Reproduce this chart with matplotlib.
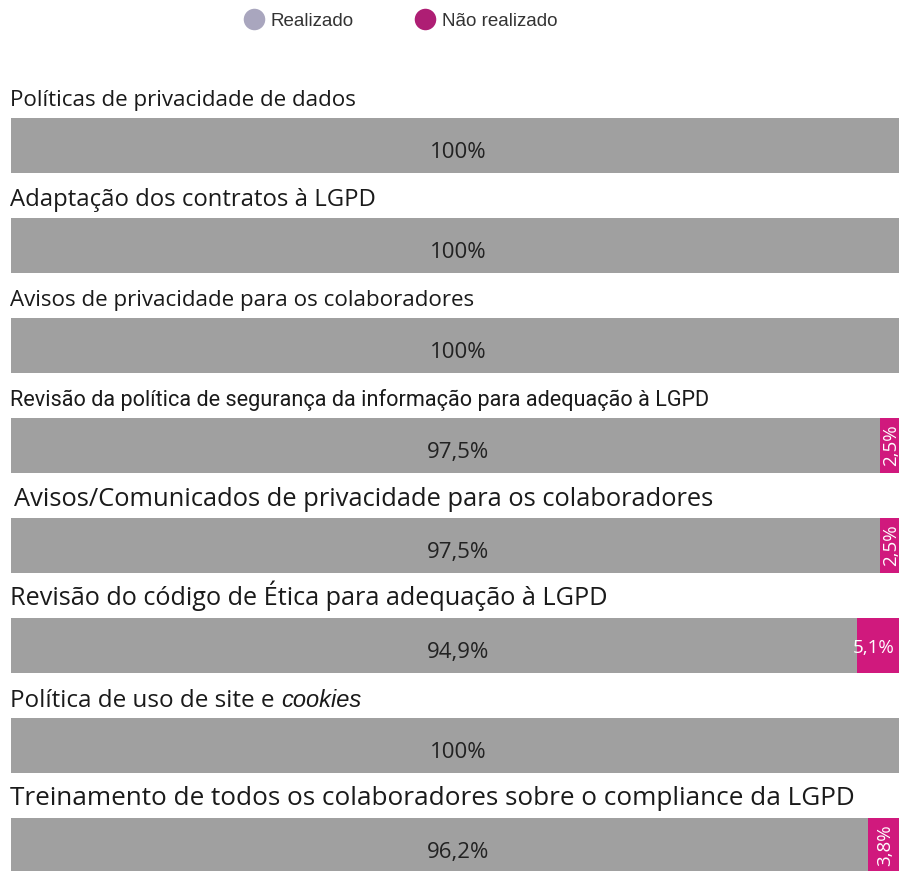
import matplotlib.pyplot as plt
from matplotlib.lines import Line2D

categories = [
    "Políticas de privacidade de dados",
    "Adaptação dos contratos à LGPD",
    "Avisos de privacidade para os colaboradores",
    "Revisão da política de segurança da informação para adequação à LGPD",
    "Avisos/Comunicados de privacidade para os colaboradores",
    "Revisão do código de Ética para adequação à LGPD",
    "Política de uso de site e ",
    "Treinamento de todos os colaboradores sobre o compliance da LGPD",
]
realizado = [100, 100, 100, 97.5, 97.5, 94.9, 100, 96.2]
nao_realizado = [0, 0, 0, 2.5, 2.5, 5.1, 0, 3.8]
value_labels = ["100%", "100%", "100%", "97,5%", "97,5%", "94,9%", "100%", "96,2%"]
rest_labels = ["", "", "", "2,5%", "2,5%", "5,1%", "", "3,8%"]
legend_labels = ["Realizado", "Não realizado"]

GRAY = "#a0a0a0"
MAGENTA = "#d0197d"
TEXT = "#1a1a1a"
FONT = "Open Sans"

# per-title font size, x offset (px) and baseline (px from top)
title_sizes = [16.1, 17.2, 16.1, 15.6, 18.4, 18.2, 17.5, 18.8]
title_x = [10, 10, 10, 10, 14, 10, 10, 10]
title_base = [106, 206, 306, 406, 506, 605, 707, 805]
title_fonts = [FONT, FONT, FONT, "Roboto", FONT, FONT, FONT, FONT]

W, H = 899, 871
fig = plt.figure(figsize=(W / 100, H / 100), dpi=100)
left, right = 11, 902
ax = fig.add_axes([left / W, 0, (right - left) / W, 1])
ax.set_xlim(0, 100)
# bar i is centred at 145.5 + 100*i pixels from the top
ax.set_ylim((H - 145.5) / 100, -1.455)
ax.axis("off")

ypos = list(range(len(categories)))
ax.barh(ypos, realizado, height=0.55, color=GRAY, linewidth=0)
ax.barh(ypos, nao_realizado, left=realizado, height=0.55, color=MAGENTA, linewidth=0)


def px_to_fig(x, y):
    return x / W, 1 - y / H


for i, name in enumerate(categories):
    fx, fy = px_to_fig(title_x[i], title_base[i])
    t = fig.text(fx, fy, name, fontsize=title_sizes[i], family=title_fonts[i],
                 color=TEXT, va="baseline", ha="left")
    if i == 6:
        fig.canvas.draw()
        bb = t.get_window_extent()
        fig.text(bb.x1 / W, fy, "cookies", fontsize=17, style="italic",
                 family="Liberation Sans", color=TEXT, va="baseline")

    ax.text(50.2, i + 0.125, value_labels[i], fontsize=16, family=FONT,
            color="#222222", va="baseline", ha="center")

    if rest_labels[i]:
        end = realizado[i] + nao_realizado[i]
        if nao_realizado[i] > 5:
            ax.text(end - 0.8, i + 0.07, rest_labels[i], fontsize=13.5, family=FONT,
                    color="white", va="baseline", ha="right")
        else:
            cx = realizado[i] + nao_realizado[i] / 2
            ax.text(cx, i, rest_labels[i], fontsize=13.5, family=FONT,
                    color="white", va="center", ha="center", rotation=90, clip_on=True)

handles = [
    Line2D([], [], marker="o", linestyle="none", markersize=15.5,
           markerfacecolor="#a9a6be", markeredgewidth=0),
    Line2D([], [], marker="o", linestyle="none", markersize=15.5,
           markerfacecolor="#ae1e74", markeredgewidth=0),
]
fig.legend(handles, legend_labels, loc="center", bbox_to_anchor=(400 / W, 1 - 21 / H),
           ncol=2, frameon=False, handletextpad=0.3, columnspacing=3.2,
           prop={"family": "Liberation Sans", "size": 13.5}, labelcolor="#333333",
           handlelength=1.2, borderpad=0, borderaxespad=0)

fig.savefig("out.png", dpi=100)
